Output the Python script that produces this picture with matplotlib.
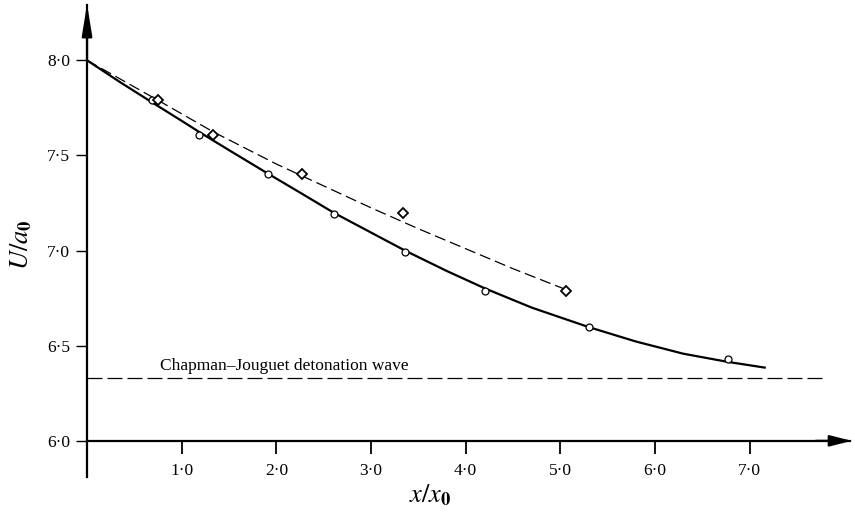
import matplotlib.pyplot as plt

# experimental points (circles) and their faired curve
circle_x = [0.69, 1.18, 1.91, 2.61, 3.36, 4.21, 5.30, 6.77]
circle_y = [7.79, 7.61, 7.40, 7.19, 6.99, 6.79, 6.60, 6.43]
solid_x = [0.0, 0.35, 0.69, 1.0, 1.18, 1.5, 1.91, 2.25, 2.61, 3.0, 3.36,
           3.8, 4.21, 4.7, 5.3, 5.8, 6.3, 6.77, 7.16]
solid_y = [8.00, 7.885, 7.778, 7.682, 7.625, 7.528, 7.405, 7.305, 7.198, 7.095, 7.0,
           6.893, 6.80, 6.70, 6.598, 6.522, 6.458, 6.415, 6.385]

# second set (diamonds) and dashed curve
diamond_x = [0.75, 1.33, 2.27, 3.34, 5.06]
diamond_y = [7.79, 7.61, 7.40, 7.20, 6.79]
dashed_x = [0.0, 0.4, 0.75, 1.33, 2.0, 2.5, 3.0, 3.5, 4.0, 4.5, 5.06]
dashed_y = [8.00, 7.888, 7.79, 7.625, 7.455, 7.34, 7.225, 7.115, 7.01, 6.905, 6.795]

cj_level = 6.33
cj_x = [0.0, 7.8]

xticks = [1, 2, 3, 4, 5, 6, 7]
yticks = [6.0, 6.5, 7.0, 7.5, 8.0]

plt.rcParams['font.family'] = ['Liberation Serif', 'DejaVu Serif']
plt.rcParams['mathtext.fontset'] = 'stix'

fig = plt.figure(figsize=(8.55, 5.16), dpi=100)
ax = fig.add_axes([0.1018, 0.0756, 0.8922, 0.9144])

ax.plot(solid_x, solid_y, color='black', lw=1.6)
ax.plot(dashed_x, dashed_y, color='black', lw=0.9, dashes=(9, 4))
ax.plot(cj_x, [cj_level, cj_level], color='black', lw=0.9, dashes=(12, 4))
ax.plot(circle_x, circle_y, 'o', ms=5, mfc='white', mec='black', mew=0.9)
ax.plot(diamond_x, diamond_y, 'D', ms=5.5, mfc='white', mec='black', mew=1.3)

ax.text(0.77, 6.37, 'Chapman–Jouguet detonation wave', fontsize=12.5)

ax.set_xlim(0, 8.06)
ax.set_ylim(5.81, 8.29)
ax.spines['top'].set_visible(False)
ax.spines['right'].set_visible(False)
ax.spines['bottom'].set_position(('data', 6.0))
ax.spines['left'].set_linewidth(1.6)
ax.spines['bottom'].set_linewidth(1.6)

# arrow heads on the axes
ax.annotate('', xy=(0, 8.295), xytext=(0, 8.0), annotation_clip=False,
            arrowprops=dict(arrowstyle='-|>,head_length=1.35,head_width=0.22',
                            mutation_scale=14, color='black', lw=1.6, shrinkA=0, shrinkB=0))
ax.annotate('', xy=(8.08, 6.0), xytext=(7.7, 6.0), annotation_clip=False,
            arrowprops=dict(arrowstyle='-|>,head_length=0.95,head_width=0.24',
                            mutation_scale=14, color='black', lw=1.6, shrinkA=0, shrinkB=0))

ax.set_xticks(xticks)
ax.set_xticklabels([f'{v:.1f}'.replace('.', '·') for v in xticks])
ax.set_yticks(yticks)
ax.set_yticklabels([f'{v:.1f}'.replace('.', '·') for v in yticks])
ax.tick_params(axis='x', direction='out', length=9, width=1.3, pad=7, labelsize=12.5)
ax.tick_params(axis='y', direction='out', length=8, width=1.0, pad=4, labelsize=12.5)

fig.text(0.503, 0.04, r'$x/x_\mathbf{0}$', fontsize=19, ha='center', va='center')
fig.text(0.025, 0.525, r'$U/a_\mathbf{0}$', fontsize=19, ha='center', va='center', rotation=90)

fig.savefig('out.png', dpi=100)
